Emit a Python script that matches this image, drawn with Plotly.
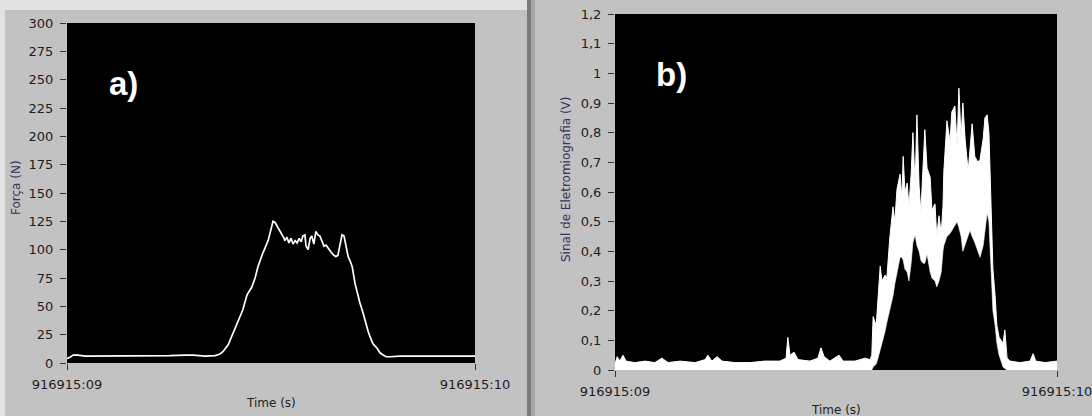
import plotly.graph_objects as go

W, H = 1092, 416

# ---------------- data: panel a) force ----------------
force_time_ms = [0, 7, 15, 27, 44, 81, 130, 203, 252, 292, 309, 338, 363, 375, 382, 395,
                 407, 419, 431, 441, 453, 461, 468, 480, 493, 500, 505, 510, 515, 522,
                 527, 532, 534, 539, 544, 549, 554, 559, 564, 569, 574, 578, 583, 586,
                 591, 596, 600, 605, 610, 615, 620, 625, 630, 635, 640, 647, 654, 659,
                 664, 669, 674, 679, 684, 689, 694, 699, 706, 711, 718, 725, 730, 738,
                 743, 750, 760, 767, 775, 782, 792, 816, 865, 914, 963, 1000]
force_N = [4, 5, 7, 7, 6, 6, 6, 6, 6.5, 7, 7, 6, 6.5, 8, 10, 16,
           26, 36, 47, 60, 67, 75, 85, 97, 108, 118, 125, 124, 121, 117,
           113, 110, 108, 111, 106, 110, 105, 108, 106, 110, 107, 112, 113, 103,
           100, 110, 112, 105, 116, 113, 112, 108, 103, 104, 101, 98, 95, 94,
           95, 105, 113, 112, 104, 94, 90, 85, 70, 62, 53, 45, 38, 28,
           23, 17, 13, 9, 7, 5.5, 5.5, 6, 6, 6, 6, 6]

# ---------------- data: panel b) EMG envelope ----------------
emg_time_ms = [0, 5, 11, 18, 25, 45, 68, 90, 106, 120, 147, 181, 204, 210, 219, 231,
               242, 271, 305, 339, 373, 387, 391, 396, 405, 414, 441, 459, 466, 473,
               486, 507, 516, 543, 566, 577, 581, 584, 591, 595, 600, 604, 611, 615,
               622, 629, 633, 638, 645, 649, 652, 656, 661, 665, 670, 674, 679, 683,
               688, 692, 697, 701, 706, 713, 717, 724, 728, 733, 738, 742, 744, 751,
               758, 762, 769, 774, 778, 783, 787, 792, 799, 803, 808, 814, 821, 826,
               833, 837, 842, 846, 851, 855, 860, 864, 869, 873, 878, 882, 887, 894,
               916, 939, 946, 952, 973, 1000]
emg_low_V = [0, 0, 0, 0, 0, 0, 0, 0, 0, 0, 0, 0, 0, 0, 0, 0,
             0, 0, 0, 0, 0, 0, 0, 0, 0, 0, 0, 0, 0, 0,
             0, 0, 0, 0, 0, 0, 0, 0.01, 0.02, 0.04, 0.067, 0.09, 0.13, 0.16,
             0.20, 0.25, 0.29, 0.33, 0.38, 0.38, 0.37, 0.34, 0.33, 0.30, 0.36, 0.43, 0.455, 0.42,
             0.40, 0.37, 0.36, 0.36, 0.39, 0.33, 0.31, 0.30, 0.28, 0.30, 0.33, 0.40, 0.42, 0.45,
             0.46, 0.47, 0.49, 0.50, 0.48, 0.45, 0.40, 0.42, 0.45, 0.47, 0.45, 0.43, 0.40, 0.38,
             0.42, 0.48, 0.53, 0.50, 0.32, 0.20, 0.15, 0.09, 0.05, 0.03, 0.01, 0.005, 0, 0,
             0, 0, 0, 0, 0, 0]
emg_high_V = [0.02, 0.045, 0.03, 0.05, 0.03, 0.025, 0.03, 0.025, 0.04, 0.025, 0.03, 0.025, 0.035, 0.05, 0.03, 0.045,
              0.03, 0.025, 0.025, 0.03, 0.03, 0.04, 0.11, 0.05, 0.06, 0.035, 0.03, 0.04, 0.075, 0.045,
              0.03, 0.05, 0.03, 0.03, 0.04, 0.035, 0.05, 0.18, 0.15, 0.24, 0.35, 0.30, 0.32, 0.31,
              0.45, 0.55, 0.50, 0.61, 0.66, 0.58, 0.72, 0.60, 0.63, 0.55, 0.66, 0.80, 0.62, 0.86,
              0.62, 0.53, 0.68, 0.81, 0.68, 0.65, 0.54, 0.56, 0.45, 0.52, 0.46, 0.55, 0.67, 0.84,
              0.77, 0.87, 0.89, 0.75, 0.95, 0.78, 0.90, 0.78, 0.67, 0.75, 0.83, 0.72, 0.70, 0.71,
              0.78, 0.85, 0.86, 0.80, 0.54, 0.34, 0.25, 0.15, 0.11, 0.10, 0.09, 0.135, 0.04, 0.03,
              0.025, 0.03, 0.055, 0.03, 0.025, 0.03]

force_ticks = [0, 25, 50, 75, 100, 125, 150, 175, 200, 225, 250, 275, 300]
emg_ticks = [0, 0.1, 0.2, 0.3, 0.4, 0.5, 0.6, 0.7, 0.8, 0.9, 1.0, 1.1, 1.2]
emg_tick_text = ["0", "0,1", "0,2", "0,3", "0,4", "0,5", "0,6", "0,7", "0,8", "0,9", "1", "1,1", "1,2"]
time_ticks = [0, 1]
time_tick_text = ["916915:09", "916915:10"]

force_t = [v / 1000 for v in force_time_ms]
emg_t = [v / 1000 for v in emg_time_ms]


def px(x):
    return x / W


def py(y):
    return 1 - y / H


fig = go.Figure()
fig.add_trace(go.Scatter(x=force_t, y=force_N, mode="lines",
                         line=dict(color="white", width=1.7),
                         xaxis="x", yaxis="y", showlegend=False, hoverinfo="skip"))
fig.add_trace(go.Scatter(x=emg_t, y=emg_low_V, mode="lines",
                         line=dict(color="white", width=0.6),
                         xaxis="x2", yaxis="y2", showlegend=False, hoverinfo="skip"))
fig.add_trace(go.Scatter(x=emg_t, y=emg_high_V, mode="lines", fill="tonexty",
                         fillcolor="white", line=dict(color="white", width=1),
                         xaxis="x2", yaxis="y2", showlegend=False, hoverinfo="skip"))

tickfont = dict(family="DejaVu Sans", size=13, color="#1e1e1e")
common_axis = dict(showgrid=False, zeroline=False, showline=False, ticks="outside",
                   ticklen=6, tickwidth=1, tickcolor="#333333", tickfont=tickfont,
                   automargin=False, ticklabeloverflow="allow")

fig.update_layout(
    width=W, height=H,
    margin=dict(l=0, r=0, t=0, b=0, autoexpand=False),
    paper_bgcolor="#e2e2e2",
    plot_bgcolor="black",
    showlegend=False,
    xaxis=dict(domain=[px(67), px(475)], range=[0, 1], tickvals=time_ticks,
               ticktext=time_tick_text, anchor="y", ticklabelstandoff=3, **common_axis),
    yaxis=dict(domain=[py(363), py(23)], range=[0, 300], tickvals=force_ticks,
               anchor="x", ticklabelstandoff=4, **common_axis),
    xaxis2=dict(domain=[px(615), px(1057)], range=[0, 1], tickvals=time_ticks,
                ticktext=time_tick_text, anchor="y2", ticklabelstandoff=3, **common_axis),
    yaxis2=dict(domain=[py(370), py(14)], range=[0, 1.2], tickvals=emg_ticks,
                ticktext=emg_tick_text, anchor="x2", ticklabelstandoff=4, **common_axis),
    shapes=[
        dict(type="rect", xref="paper", yref="paper", x0=px(5), x1=px(527), y0=0, y1=py(10),
             fillcolor="#c2c2c2", line=dict(width=0), layer="below"),
        dict(type="rect", xref="paper", yref="paper", x0=px(527), x1=px(531), y0=0, y1=1,
             fillcolor="#7c7c7c", line=dict(width=0), layer="below"),
        dict(type="rect", xref="paper", yref="paper", x0=px(531), x1=px(535), y0=0, y1=1,
             fillcolor="#a6a6a6", line=dict(width=0), layer="below"),
        dict(type="rect", xref="paper", yref="paper", x0=px(535), x1=1, y0=0, y1=1,
             fillcolor="#c2c2c2", line=dict(width=0), layer="below"),
        dict(type="rect", xref="x domain", yref="y domain", x0=0, x1=1, y0=0, y1=1,
             fillcolor="black", line=dict(width=0), layer="below"),
        dict(type="rect", xref="x2 domain", yref="y2 domain", x0=0, x1=1, y0=0, y1=1,
             fillcolor="black", line=dict(width=0), layer="below"),
    ],
    annotations=[
        dict(text="a)", x=px(107), y=py(84), xref="paper", yref="paper", xanchor="left",
             yanchor="middle", showarrow=False,
             font=dict(family="Liberation Sans", size=33, color="white", weight="bold")),
        dict(text="b)", x=px(654), y=py(74), xref="paper", yref="paper", xanchor="left",
             yanchor="middle", showarrow=False,
             font=dict(family="Liberation Sans", size=33, color="white", weight="bold")),
        dict(text="Força (N)", x=px(16), y=py(188), xref="paper", yref="paper",
             xanchor="center", yanchor="middle", textangle=-90, showarrow=False,
             font=dict(family="DejaVu Sans", size=12, color="#34345a")),
        dict(text="Sinal de Eletromiografia (V)", x=px(566), y=py(180), xref="paper",
             yref="paper", xanchor="center", yanchor="middle", textangle=-90, showarrow=False,
             font=dict(family="DejaVu Sans", size=12, color="#34345a")),
        dict(text="Time (s)", x=px(271), y=py(403), xref="paper", yref="paper",
             xanchor="center", yanchor="middle", showarrow=False,
             font=dict(family="DejaVu Sans", size=12, color="#222222")),
        dict(text="Time (s)", x=px(836), y=py(410), xref="paper", yref="paper",
             xanchor="center", yanchor="middle", showarrow=False,
             font=dict(family="DejaVu Sans", size=12, color="#222222")),
    ],
)

fig.write_html("out.html", config={"displayModeBar": False},
               post_script="document.body.style.margin='0';")
